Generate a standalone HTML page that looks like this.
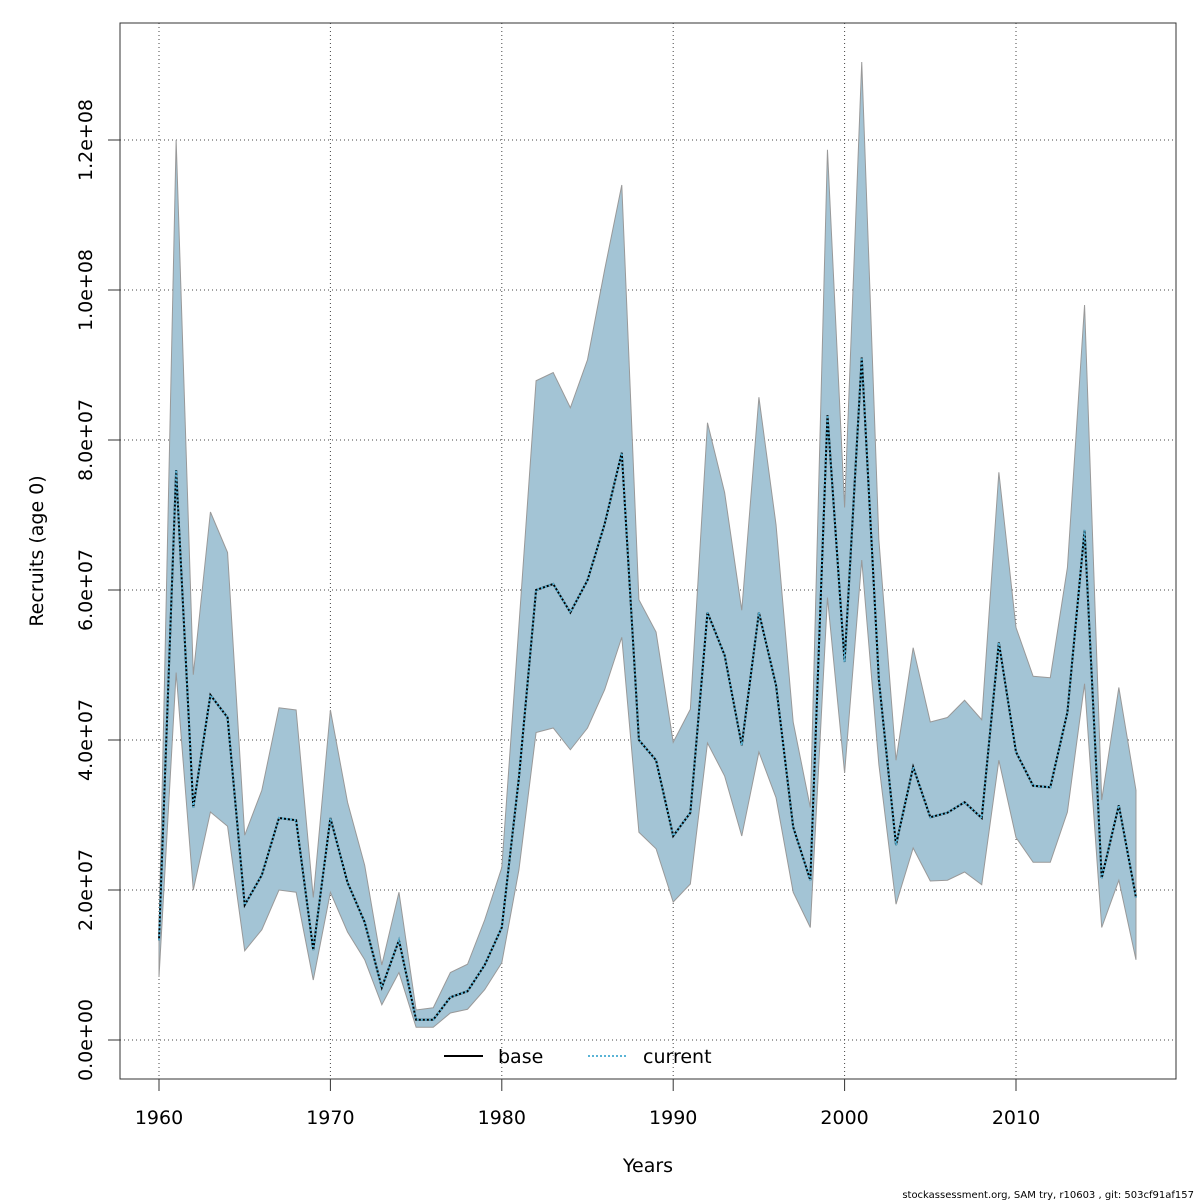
<!DOCTYPE html>
<html><head><meta charset="utf-8"><style>
body{margin:0;background:#fff;}
svg{display:block;font-family:"DejaVu Sans","Liberation Sans",sans-serif;}
</style></head><body>
<svg id="chart" width="1200" height="1200" viewBox="0 0 1200 1200">
<g id="grid"></g>
<g id="band"></g>
<g id="lines"></g>
<rect x="120" y="23" width="1056" height="1056" fill="none" stroke="#333" stroke-width="1"/>
<g id="axes"></g>
<text x="648" y="1172" font-size="19" text-anchor="middle">Years</text>
<text x="0" y="0" font-size="19" text-anchor="middle" transform="translate(43,551) rotate(-90)">Recruits (age 0)</text>
<g>
<line x1="444" y1="1056" x2="483" y2="1056" stroke="#000" stroke-width="2"/>
<text x="498" y="1063" font-size="19">base</text>
<line x1="588" y1="1056" x2="627" y2="1056" stroke="#5ab4d6" stroke-width="2" stroke-dasharray="2,2"/>
<text x="643" y="1063" font-size="19">current</text>
</g>
<text x="1194" y="1198" font-size="10" text-anchor="end">stockassessment.org, SAM  try, r10603 , git: 503cf91af157</text>
</svg>
<script>
const years=[];for(let y=1960;y<=2017;y++)years.push(y);
const meanVals=[13.3,76,31,46,43,18,22,29.6,29.3,12,29.6,21,15.7,7,13.3,2.7,2.7,5.7,6.5,10,15,35,60,60.8,57,61.3,68.8,78.3,40,37.3,27.2,30.3,57,51.3,39.3,57,47.3,28.4,21.3,83.3,50.4,91,48,26,36.4,29.7,30.3,31.7,29.6,53,38.4,33.9,33.7,43.7,68,21.6,31.3,19];
const upperVals=[14,120,48.7,70.4,65,27.3,33.3,44.3,44,19,44,31.7,23.3,10,19.7,4,4.3,9,10.1,16,23,55.3,87.9,89,84.3,90.7,102.7,114,58.7,54.4,39.7,44.1,82.3,73,57.3,85.7,68.7,42.4,31,118.7,71,130.4,66.7,37.3,52.3,42.4,43,45.3,42.7,75.7,55,48.5,48.3,63,98,32,47,33.3];
const lowerVals=[8.4,49,20,30.4,28.5,11.9,14.7,20,19.7,8,19.7,14.4,10.7,4.7,9,1.7,1.7,3.6,4.1,6.7,10.3,22.7,41,41.6,38.7,41.6,46.7,53.7,27.7,25.5,18.4,20.8,39.6,35.2,27.2,38.4,32.3,19.7,15,59,35.6,64,36.7,18.1,25.6,21.2,21.3,22.4,20.7,37.3,27,23.7,23.7,30.4,47.5,15,21.3,10.7];
const xTicks=[1960,1970,1980,1990,2000,2010];
const yTicks=[0,20,40,60,80,100,120];
const yTickLabels=["0.0e+00","2.0e+07","4.0e+07","6.0e+07","8.0e+07","1.0e+08","1.2e+08"];
const NS="http://www.w3.org/2000/svg";
const X=v=>159+(v-1960)*(1016-159)/50;
const Y=v=>1040-v*7.5;
function mk(tag,attrs,parent){const e=document.createElementNS(NS,tag);for(const k in attrs)e.setAttribute(k,attrs[k]);parent.appendChild(e);return e;}
const grid=document.getElementById('grid'),axes=document.getElementById('axes'),band=document.getElementById('band'),lines=document.getElementById('lines');
xTicks.forEach(t=>{
 const g=mk('line',{x1:X(t),x2:X(t),y1:23,y2:1079,stroke:'#444','stroke-dasharray':'1,3'},grid);
 
 
 const tk=mk('line',{x1:X(t),x2:X(t),y1:1079,y2:1091,stroke:'#333'},axes);
 
 
 const tx=mk('text',{x:X(t),y:1124,'font-size':19,'text-anchor':'middle'},axes);
 tx.textContent=t;
 
 
});
yTicks.forEach((t,i)=>{
 const g=mk('line',{x1:120,x2:1176,y1:Y(t),y2:Y(t),stroke:'#444','stroke-dasharray':'1,3'},grid);
 
 
 const tk=mk('line',{x1:108,x2:120,y1:Y(t),y2:Y(t),stroke:'#333'},axes);
 
 
 const tx=mk('text',{x:0,y:0,'font-size':19,'text-anchor':'middle',transform:`translate(92,${Y(t)}) rotate(-90)`},axes);
 tx.textContent=yTickLabels[i];
 
 
});
let d='M'+years.map((y,i)=>X(y)+','+Y(upperVals[i])).join('L');
for(let i=years.length-1;i>=0;i--)d+='L'+X(years[i])+','+Y(lowerVals[i]);
d+='Z';
const p=mk('path',{d:d,fill:'#a3c4d5',stroke:'#999','stroke-width':1},band);


const pts=years.map((y,i)=>X(y)+','+Y(meanVals[i])).join(' ');
const l1=mk('polyline',{points:pts,fill:'none',stroke:'#000','stroke-width':2},lines);


const l2=mk('polyline',{points:pts,fill:'none',stroke:'#5ab4d6','stroke-width':2,'stroke-dasharray':'2,2'},lines);


</script>
</body></html>
